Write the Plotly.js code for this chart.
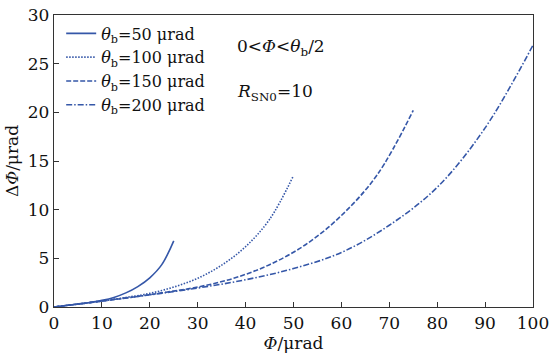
<!DOCTYPE html>
<html>
<head>
<meta charset="utf-8">
<script src="https://cdn.plot.ly/plotly-3.0.1.min.js"></script>
<style>html,body{margin:0;padding:0;background:#fff;}#chart{width:558px;height:358px;}</style>
</head>
<body>
<div id="chart"></div>
<script>
// Data
const phi50  = [0, 2.5, 5, 7.5, 10, 12.5, 15, 17.5, 20, 22.5, 25];
const d50    = [0, 0.15, 0.3, 0.47, 0.68, 0.98, 1.45, 2.1, 3.0, 4.35, 6.8];
const phi100 = [0, 5, 10, 15, 20, 25, 30, 35, 40, 45, 50];
const d100   = [0, 0.3, 0.62, 0.98, 1.4, 2.05, 2.95, 4.3, 6.2, 9.0, 13.5];
const phi150 = [0, 7.5, 15, 22.5, 30, 37.5, 45, 52.5, 60, 67.5, 75];
const d150   = [0, 0.45, 0.92, 1.45, 2.05, 2.95, 4.35, 6.4, 9.4, 13.6, 20.2];
const phi200 = [0, 10, 20, 30, 40, 50, 60, 70, 80, 90, 100];
const d200   = [0, 0.62, 1.25, 1.95, 2.8, 3.95, 5.6, 8.4, 12.3, 18.4, 26.9];
const names  = ['<i>θ</i><sub>b</sub>=50 μrad', '<i>θ</i><sub>b</sub>=100 μrad', '<i>θ</i><sub>b</sub>=150 μrad', '<i>θ</i><sub>b</sub>=200 μrad'];
const xTicks = [0, 10, 20, 30, 40, 50, 60, 70, 80, 90, 100];
const yTicks = [0, 5, 10, 15, 20, 25, 30];

const color = '#3557a8';
const dashes = ['solid', '1.5px,1.5px', '5px,2px', '6px,2px,1.5px,2px'];
const xs = [phi50, phi100, phi150, phi200];
const ys = [d50, d100, d150, d200];
const traces = xs.map((x, i) => ({
  x: x, y: ys[i], name: names[i], type: 'scatter', mode: 'lines',
  line: {color: color, width: 1.6, dash: dashes[i], shape: 'spline', smoothing: 1}
}));

const serif = "'DejaVu Serif', serif";
const layout = {
  width: 558, height: 358,
  margin: {l: 54, r: 25, t: 15, b: 51},
  paper_bgcolor: '#fff', plot_bgcolor: '#fff',
  font: {family: serif, size: 16, color: '#111'},
  showlegend: true,
  legend: {x: 0.015, y: 0.995, xanchor: 'left', yanchor: 'top', bgcolor: 'rgba(0,0,0,0)',
           font: {family: serif, size: 16, color: '#111'}, tracegroupgap: 0, itemwidth: 30},
  xaxis: {
    range: [0, 100], tickvals: xTicks, ticktext: xTicks.map(String),
    ticks: 'inside', ticklen: 5, tickcolor: '#333', showline: true, linecolor: '#333', linewidth: 1.2,
    mirror: true, showgrid: false, zeroline: false,
    tickfont: {family: serif, size: 17, color: '#111'},
    title: {text: '<i>Φ</i>/μrad', font: {family: serif, size: 17, color: '#111'}, standoff: 2}
  },
  yaxis: {
    range: [0, 30], tickvals: yTicks, ticktext: yTicks.map(String),
    ticks: 'inside', ticklen: 5, tickcolor: '#333', showline: true, linecolor: '#333', linewidth: 1.2,
    mirror: true, showgrid: false, zeroline: false,
    tickfont: {family: serif, size: 17, color: '#111'},
    title: {text: 'Δ<i>Φ</i>/μrad', font: {family: serif, size: 17, color: '#111'}, standoff: 4}
  },
  annotations: [
    {xref: 'paper', yref: 'paper', x: 0.378, y: 0.887, xanchor: 'left', yanchor: 'middle', showarrow: false,
     text: '0&lt;<i>Φ</i>&lt;<i>θ</i><sub>b</sub>/2', font: {family: serif, size: 17, color: '#111'}},
    {xref: 'paper', yref: 'paper', x: 0.378, y: 0.736, xanchor: 'left', yanchor: 'middle', showarrow: false,
     text: '<i>R</i><sub>SN0</sub>=10', font: {family: serif, size: 17, color: '#111'}}
  ]
};
Plotly.newPlot('chart', traces, layout, {displayModeBar: false, staticPlot: true});
</script>
</body>
</html>
